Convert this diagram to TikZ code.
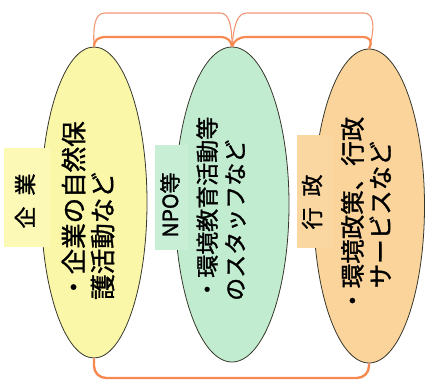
\documentclass[tikz,border=0pt]{standalone}
\usepackage{fontspec}
\setmainfont{Noto Sans CJK JP}[RawFeature={embolden=1.3}]
\usetikzlibrary{shapes.geometric}
\definecolor{yfill}{RGB}{250,247,168}
\definecolor{gfill}{RGB}{194,236,208}
\definecolor{ofill}{RGB}{250,212,155}
\definecolor{ybox}{RGB}{252,249,182}
\definecolor{gbox}{RGB}{200,238,214}
\definecolor{obox}{RGB}{250,215,160}
\definecolor{edge}{RGB}{55,55,45}
\definecolor{thinline}{RGB}{240,150,115}
\definecolor{thickline}{RGB}{246,138,80}
\tikzset{
  oval/.style={ellipse, draw=edge, line width=0.8pt, inner sep=0pt},
  labbox/.style={rectangle, inner sep=0pt},
  labtext/.style={rotate=90, inner sep=0pt, font=\fontsize{22}{24}\selectfont},
  body/.style={rotate=90, anchor=west, inner sep=0pt, align=left},
  outerbr/.style={draw=thinline, line width=1.1pt},
  innerbr/.style={draw=thickline, line width=2.2pt},
  bottomln/.style={draw=thickline, line width=2.4pt, rounded corners=12pt}
}
\begin{document}
\begin{tikzpicture}[x=1pt, y=-1pt]
\useasboundingbox (0,0) rectangle (430,383);
% ellipses
\node[oval, fill=yfill, minimum width=106pt, minimum height=311pt] (yel) at (94,202.5) {};
\node[oval, fill=gfill, minimum width=114pt, minimum height=315pt] (grn) at (232,204.5) {};
\node[oval, fill=ofill, minimum width=111pt, minimum height=314pt] (org) at (369,206) {};
% label boxes
\node[labbox, fill=ybox, minimum width=46pt, minimum height=99pt] (byel) at (27,197.5) {};
\node[labbox, fill=gbox, minimum width=33pt, minimum height=105pt] (bgrn) at (171.5,197.5) {};
\node[labbox, fill=obox, minimum width=36pt, minimum height=113pt] (borg) at (315,191.5) {};
% label texts
\node[labtext] (lyel) at (25,201) {企\hspace{0.5em}業};
\node[labtext, font=\fontsize{21}{24}\selectfont] (lgrn) at (170,205) {NPO等};
\node[labtext] (lorg) at (312,202) {行\hspace{0.5em}政};
% body texts
\node[body, font=\fontsize{25.5}{29}\selectfont] (tyel) at (88,300) {・企業の自然保\\護活動など};
\node[body, font=\fontsize{23}{28}\selectfont] (tgrn) at (221,301) {・環境教育活動等\\のスタッフなど};
\node[body, font=\fontsize{24.5}{28}\selectfont] (torg) at (366,313) {・環境政策、行政\\\hphantom{・}サービスなど};
% top brackets
\path[outerbr] (yel.north) .. controls (93,25) and (95,13) .. (105,13) -- (220,13) .. controls (229,13) and (232,25) .. (grn.north);
\path[innerbr] (yel.north) .. controls (94,41) and (97,37) .. (106,37) -- (220,37) .. controls (228,37) and (231,41) .. (grn.north);
\path[outerbr] (grn.north) .. controls (234,25) and (237,13) .. (247,13) -- (364,13) .. controls (373,13) and (376,25) .. (org.north);
\path[innerbr] (grn.north) .. controls (234,41) and (238,37) .. (247,37) -- (362,37) .. controls (370,37) and (373,41) .. (org.north);
% bottom connector
\path[bottomln] (yel.south) -- (yel.south |- 0,378) -- (org.south |- 0,378) -- (org.south);
\end{tikzpicture}
\end{document}
